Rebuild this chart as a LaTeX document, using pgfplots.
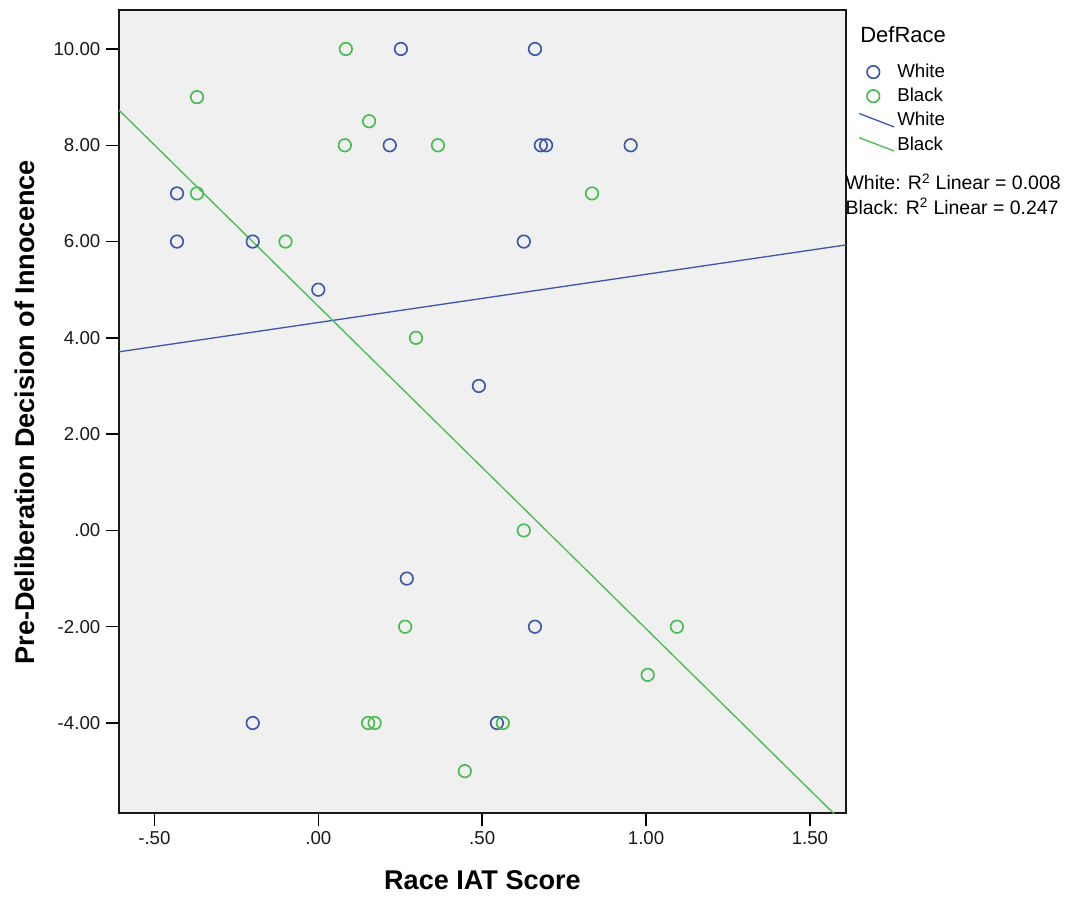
\documentclass[border=0pt]{standalone}
\usepackage{fontspec}
\setmainfont{Liberation Sans}
\usepackage{pgfplots}
\pgfplotsset{compat=1.18}

\definecolor{spssblue}{RGB}{62,88,172}
\definecolor{spssgreen}{RGB}{70,190,80}
\definecolor{plotbg}{RGB}{240,240,240}

\pgfplotsset{
  slantleg/.style={legend image code/.code={\draw[##1] (0pt,5pt) -- (26pt,-5pt);}},
  markleg/.style={legend image code/.code={\draw[##1] plot[only marks] coordinates {(10.5pt,0pt)};}},
}

\begin{document}
\begin{tikzpicture}
\begin{axis}[
    name=ax,
    scale only axis,
    width=545pt, height=602pt,
    xmin=-0.608, xmax=1.61,
    ymin=-5.87, ymax=10.81,
    axis background/.style={fill=plotbg},
    axis line style={black!90, line width=1pt},
    xtick={-0.5,0,0.5,1,1.5},
    xticklabels={-.50,.00,.50,1.00,1.50},
    ytick={-4,-2,0,2,4,6,8,10},
    yticklabels={-4.00,-2.00,.00,2.00,4.00,6.00,8.00,10.00},
    tick align=outside,
    major tick length=9.5pt,
    tick style={black, line width=1.1pt},
    xtick pos=bottom, ytick pos=left,
    tick label style={font=\fontsize{14}{16}\selectfont, black!90},
    xticklabel style={yshift=-1pt},
    yticklabel style={xshift=-1pt},
    xlabel={\textbf{Race IAT Score}},
    ylabel={\textbf{Pre-Deliberation Decision of Innocence}},
    label style={font=\fontsize{20.3}{23}\selectfont},
    xlabel style={at={(axis description cs:0.5,-0.084)}, anchor=center},
    ylabel style={at={(axis description cs:-0.129,0.499)}, anchor=center},
    legend style={
        at={(axis description cs:1.017,0.936)}, anchor=north west,
        draw=none, fill=none,
        font=\fontsize{14}{16}\selectfont,
        row sep=2.4pt, inner sep=0pt,
        legend cell align=left,
    },
]
% White defendant
\addplot[only marks, mark=o, mark size=4.7pt, spssblue, line width=1.25pt, markleg] coordinates {
(0.252,10) (0.661,10) (-0.431,7) (-0.431,6) (-0.20,6) (0.0,5)
(0.218,8) (0.679,8) (0.695,8) (0.953,8) (0.627,6) (0.49,3)
(0.27,-1) (0.661,-2) (-0.20,-4) (0.545,-4)
};
\addlegendentry{White}
% Black defendant
\addplot[only marks, mark=o, mark size=4.7pt, spssgreen, line width=1.25pt, markleg] coordinates {
(0.084,10) (-0.37,9) (0.155,8.5) (0.081,8) (0.365,8) (-0.37,7)
(-0.10,6) (0.835,7) (0.298,4) (0.627,0) (0.265,-2) (1.094,-2)
(1.005,-3) (0.152,-4) (0.172,-4) (0.563,-4) (0.447,-5)
};
\addlegendentry{Black}
% fit lines
\addplot[spssblue, line width=1pt, slantleg]
  coordinates {(-0.608,3.71) (1.61,5.93)};
\addlegendentry{White}
\addplot[spssgreen, line width=1pt, slantleg]
  coordinates {(-0.608,8.73) (1.61,-6.13)};
\addlegendentry{Black}

\coordinate (bl) at (axis description cs:-0.1637,-0.1046);
\coordinate (tr) at (axis description cs:1.304,1.01245);
\coordinate (ttl) at (axis description cs:1.0193,0.969);
\coordinate (r1) at (axis description cs:0.999,0.786);
\coordinate (r2) at (axis description cs:0.999,0.755);
\end{axis}
\node[anchor=west, font=\fontsize{16.5}{19}\selectfont, inner sep=0pt] at (ttl) {DefRace};
\node[anchor=west, font=\fontsize{14.6}{16}\selectfont, inner sep=0pt] at (r1) {White: R\textsuperscript{2} Linear = 0.008};
\node[anchor=west, font=\fontsize{14.6}{16}\selectfont, inner sep=0pt] at (r2) {Black: R\textsuperscript{2} Linear = 0.247};
\path (bl) rectangle (tr);
\end{tikzpicture}
\end{document}
